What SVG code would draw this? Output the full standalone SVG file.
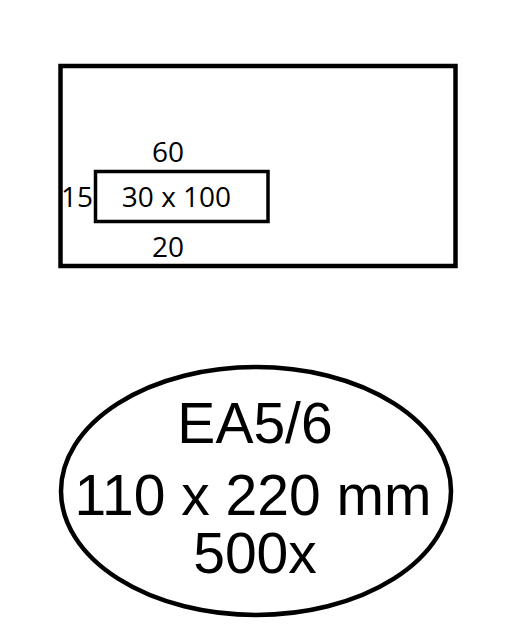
<svg xmlns="http://www.w3.org/2000/svg" width="506" height="640" viewBox="0 0 506 640">
<style>
.box{fill:none;stroke:#000}
.s{font-family:"Open Sans","DejaVu Sans",sans-serif;font-size:28px;fill:#000;text-anchor:middle}
.b{font-family:"Liberation Sans",Arial,sans-serif;font-size:57px;fill:#000;text-anchor:middle}
</style>
<rect width="506" height="640" fill="#fff"/>
<g id="envelope">
<rect class="box" x="60.5" y="66" width="395" height="200" stroke-width="4.5"/>
</g>
<g id="window">
<rect class="box" x="95.5" y="171.5" width="172.5" height="50" stroke-width="3.5"/>
<text class="s" x="176.5" y="207">30 x 100</text>
</g>
<g id="labels">
<text class="s" x="168" y="162">60</text>
<text class="s" x="77" y="207">15</text>
<text class="s" x="168" y="257">20</text>
</g>
<g id="badge">
<ellipse class="box" cx="256" cy="491" rx="195" ry="124" stroke-width="4.5"/>
<text class="b" x="255" y="443">EA5/6</text>
<text class="b" x="253" y="515">110 x 220 mm</text>
<text class="b" x="255" y="573">500x</text>
</g>
</svg>
